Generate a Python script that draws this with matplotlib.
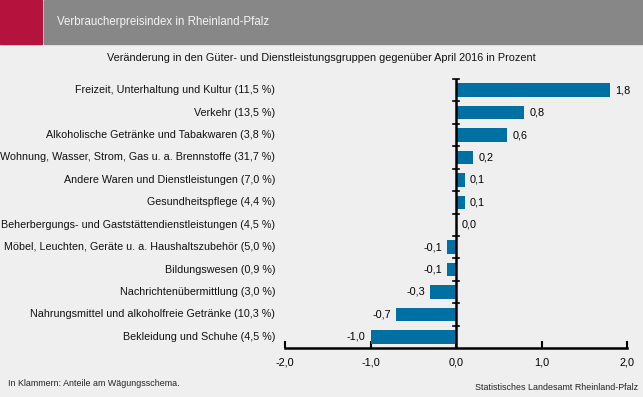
import matplotlib.pyplot as plt
import matplotlib.patches as patches

plt.rcParams['font.family'] = ['Liberation Sans', 'DejaVu Sans']

categories = [
    "Freizeit, Unterhaltung und Kultur (11,5 %)",
    "Verkehr (13,5 %)",
    "Alkoholische Getränke und Tabakwaren (3,8 %)",
    "Wohnung, Wasser, Strom, Gas u. a. Brennstoffe (31,7 %)",
    "Andere Waren und Dienstleistungen (7,0 %)",
    "Gesundheitspflege (4,4 %)",
    "Beherbergungs- und Gaststättendienstleistungen (4,5 %)",
    "Möbel, Leuchten, Geräte u. a. Haushaltszubehör (5,0 %)",
    "Bildungswesen (0,9 %)",
    "Nachrichtenübermittlung (3,0 %)",
    "Nahrungsmittel und alkoholfreie Getränke (10,3 %)",
    "Bekleidung und Schuhe (4,5 %)",
]
values = [1.8, 0.8, 0.6, 0.2, 0.1, 0.1, 0.0, -0.1, -0.1, -0.3, -0.7, -1.0]
x_ticks = [-2, -1, 0, 1, 2]

bg = "#eeefee"
bar_color = "#0070a2"

W, H = 643, 397
fig = plt.figure(figsize=(W / 100, H / 100), dpi=100, facecolor=bg)

# header
fig.patches.append(patches.Rectangle((0, 1 - 44 / H), 42 / W, 44 / H,
                                     transform=fig.transFigure, color="#b5123e", zorder=0))
fig.patches.append(patches.Rectangle((44 / W, 1 - 44 / H), 1 - 44 / W, 44 / H,
                                     transform=fig.transFigure, color="#878787", zorder=0))
fig.text(57 / W, 1 - 22 / H, "Verbraucherpreisindex in Rheinland-Pfalz",
         color="#f4f4f4", fontsize=8.3, va="center", ha="left")
fig.text(0.5, 1 - 58 / H,
         "Veränderung in den Güter- und Dienstleistungsgruppen gegenüber April 2016 in Prozent",
         fontsize=7.8, va="center", ha="center", color="#111111")

ax = fig.add_axes([285 / W, 49 / H, 342 / W, 269 / H])
ax.set_facecolor(bg)
n = len(values)
pos = list(range(n))
ax.barh(pos, values, height=0.6, color=bar_color, zorder=2)
ax.set_xlim(-2, 2)
ax.set_ylim(n - 0.5, -0.5)

for y, v in zip(pos, values):
    txt = f"{v:.1f}".replace(".", ",")
    if v >= 0:
        ax.text(v + 0.06, y, txt, va="center", ha="left", fontsize=7.8)
    else:
        ax.text(v - 0.06, y, txt, va="center", ha="right", fontsize=7.8)

for s in ["top", "right", "left"]:
    ax.spines[s].set_visible(False)
ax.spines["bottom"].set_linewidth(1.8)

ax.set_xticks(x_ticks)
ax.set_xticklabels([f"{t:.1f}".replace(".", ",") for t in x_ticks], fontsize=7.8)
ax.tick_params(axis="x", direction="in", length=5, width=1.5, pad=7)

ax.axvline(0, color="black", lw=1.8, zorder=3)
ax.set_yticks([])
# category boundary ticks on the zero line
for b in [i - 0.5 for i in range(n)]:
    ax.plot([-0.04, 0.04], [b, b], color="black", lw=1.2, zorder=3, clip_on=False)

for y, c in zip(pos, categories):
    ax.annotate(c, xy=(-2, y), xycoords="data", xytext=(-7, 0),
                textcoords="offset points", ha="right", va="center", fontsize=7.75,
                color="#111111", annotation_clip=False)

fig.text(8 / W, 1 - 384 / H, "In Klammern: Anteile am Wägungsschema.",
         fontsize=6.4, va="center", ha="left", color="#222222")
fig.text(638 / W, 1 - 388 / H, "Statistisches Landesamt Rheinland-Pfalz",
         fontsize=6.4, va="center", ha="right", color="#222222")

fig.savefig("out.png", dpi=100, facecolor=bg)
